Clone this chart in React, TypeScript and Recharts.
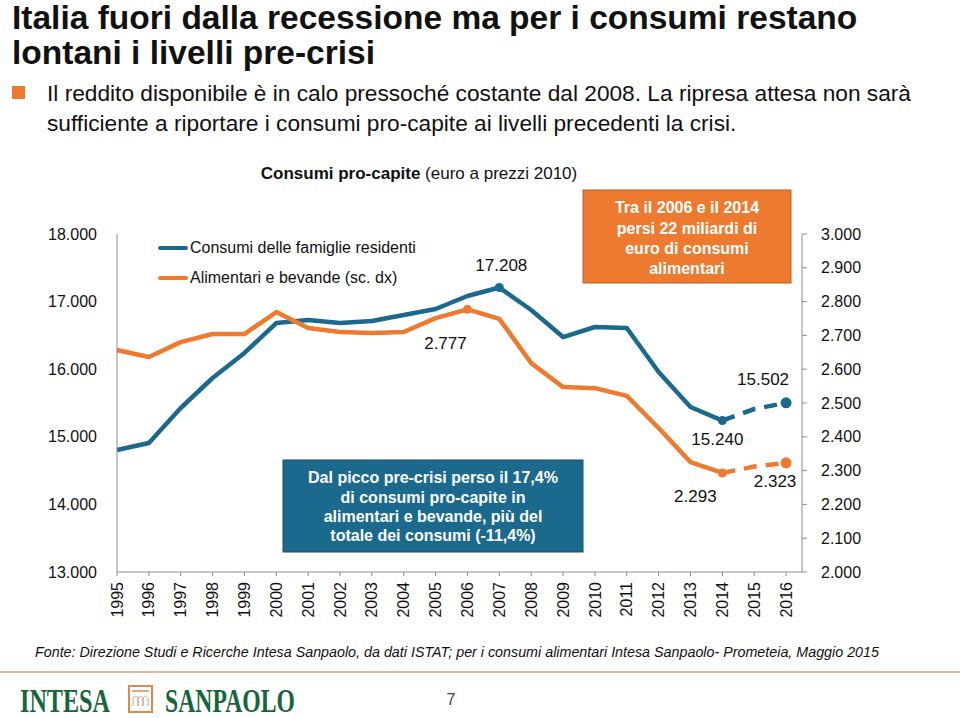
import React from 'react';
import { LineChart, Line, XAxis, YAxis, Legend } from 'recharts';

// Consumi pro-capite (euro a prezzi 2010)
const years = [1995, 1996, 1997, 1998, 1999, 2000, 2001, 2002, 2003, 2004, 2005, 2006, 2007, 2008, 2009, 2010, 2011, 2012, 2013, 2014, 2015, 2016];
const consumiFamiglie = [14805, 14908, 15426, 15870, 16240, 16683, 16728, 16683, 16713, 16802, 16891, 17083, 17208, 16876, 16476, 16624, 16609, 15959, 15441, 15240, 15411, 15502];
const alimentariBevande = [2657, 2636, 2680, 2704, 2704, 2769, 2722, 2710, 2707, 2710, 2751, 2777, 2749, 2618, 2547, 2544, 2521, 2426, 2325, 2293, 2312, 2323];
const lastActualYear = 2014;

const leftTicks = [13000, 14000, 15000, 16000, 17000, 18000];
const rightTicks = [2000, 2100, 2200, 2300, 2400, 2500, 2600, 2700, 2800, 2900, 3000];

// punti evidenziati con etichetta
const blueMarks = [2007, 2014, 2016];
const orangeMarks = [2006, 2014, 2016];

const legendOrder = ['consumi', 'alimentari'];

const BLUE = '#1B6A8E';
const ORANGE = '#EE7A30';
const AXIS = '#8c8c8c';
const FONT = '"Liberation Sans", Arial, Helvetica, sans-serif';

const data = years.map((year, i) => ({
  year,
  consumi: year <= lastActualYear ? consumiFamiglie[i] : null,
  consumiPrev: year >= lastActualYear ? consumiFamiglie[i] : null,
  alimentari: year <= lastActualYear ? alimentariBevande[i] : null,
  alimentariPrev: year >= lastActualYear ? alimentariBevande[i] : null,
}));

const fmt = (v: number) => (v / 1000).toFixed(3);

// label offsets relative to the point
const labelOffsets: Record<string, [number, number]> = {
  'b2007': [2, -17],
  'b2014': [-5, 24],
  'b2016': [-23, -18],
  'o2006': [-22, 40],
  'o2014': [-27, 29],
  'o2016': [-11, 24],
};

const makeDot = (marks: number[], color: string, prefix: string) => (props: any) => {
  const { cx, cy, payload, index, value } = props;
  const key = `${prefix}-${index}`;
  if (cx == null || cy == null || !payload || !marks.includes(payload.year) || value == null) {
    return <g key={key} />;
  }
  const off = labelOffsets[prefix + payload.year] || [0, -12];
  const v = Array.isArray(value) ? value[1] : value;
  return (
    <g key={key}>
      <circle cx={cx} cy={cy} r={payload.year === 2016 ? 5.5 : 4.5} fill={color} />
      <text x={cx + off[0]} y={cy + off[1]} textAnchor="middle" fontSize={17} fontFamily={FONT} fill="#111">
        {fmt(v)}
      </text>
    </g>
  );
};

const YearTick = (props: any) => {
  const { x, y, payload } = props;
  return (
    <g>
      <line x1={x} y1={y - 8} x2={x} y2={y - 4} stroke={AXIS} strokeWidth={1} />
      <text x={x} y={y + 2} transform={`rotate(-90, ${x}, ${y + 2})`} textAnchor="end" dy="0.35em" fontSize={16} fontFamily={FONT} fill="#111">
        {payload.value}
      </text>
    </g>
  );
};

const LegendBox = (props: any) => {
  const items = (props.payload || [])
    .filter((p: any) => legendOrder.includes(p.dataKey))
    .sort((a: any, b: any) => legendOrder.indexOf(a.dataKey) - legendOrder.indexOf(b.dataKey));
  return (
    <div style={{ fontFamily: FONT, fontSize: 16, color: '#111' }}>
      {items.map((p: any) => (
        <div key={p.value} style={{ display: 'flex', alignItems: 'center', height: 30 }}>
          <span style={{ display: 'inline-block', width: 30, height: 4, borderRadius: 2, background: p.color, marginRight: 2 }} />
          <span>{p.value}</span>
        </div>
      ))}
    </div>
  );
};

const Overlay = () => (
  <svg width={960} height={718} style={{ position: 'absolute', left: 0, top: 0, pointerEvents: 'none' }}>
    <g fontFamily={FONT}>
      <text x={12} y={29} fontSize={33.5} fontWeight="bold" fill="#111">Italia fuori dalla recessione ma per i consumi restano</text>
      <text x={12} y={64} fontSize={33.5} fontWeight="bold" fill="#111">lontani i livelli pre-crisi</text>
      <rect x={12} y={86} width={13} height={13} fill={ORANGE} />
      <text x={47} y={101} fontSize={22.7} fill="#111">Il reddito disponibile è in calo pressoché costante dal 2008. La ripresa attesa non sarà</text>
      <text x={47} y={131} fontSize={22.7} fill="#111">sufficiente a riportare i consumi pro-capite ai livelli precedenti la crisi.</text>
      <text x={419} y={179} fontSize={17} textAnchor="middle" fill="#111">
        <tspan fontWeight="bold">Consumi pro-capite</tspan> (euro a prezzi 2010)
      </text>

      <rect x={583} y={190} width={208} height={93} fill={ORANGE} stroke="#b8612a" strokeWidth={1} />
      <g fontSize={16} fontWeight="bold" fill="#fff" textAnchor="middle">
        <text x={687} y={213}>Tra il 2006 e il 2014</text>
        <text x={687} y={234}>persi 22 miliardi di</text>
        <text x={687} y={254}>euro di consumi</text>
        <text x={687} y={274}>alimentari</text>
      </g>

      <rect x={283} y={460} width={300} height={92} fill={BLUE} stroke="#14506b" strokeWidth={1} />
      <g fontSize={16} fontWeight="bold" fill="#fff" textAnchor="middle">
        <text x={433} y={483}>Dal picco pre-crisi perso il 17,4%</text>
        <text x={433} y={503}>di consumi pro-capite in</text>
        <text x={433} y={522}>alimentari e bevande, più del</text>
        <text x={433} y={541}>totale dei consumi (-11,4%)</text>
      </g>

      <text x={35} y={657} fontSize={14.3} fontStyle="italic" fill="#111">
        Fonte: Direzione Studi  e Ricerche  Intesa Sanpaolo, da dati ISTAT; per i consumi alimentari Intesa Sanpaolo- Prometeia, Maggio 2015
      </text>
      <line x1={0} y1={672} x2={960} y2={672} stroke="#d9a27c" strokeWidth={1.5} />
    </g>
    <g fontFamily='"Liberation Serif", "DejaVu Serif", serif' fontWeight="bold" fill="#17663b">
      <text x={20} y={712} fontSize={34} textLength={90} lengthAdjust="spacingAndGlyphs">INTESA</text>
      <rect x={129} y={686} width={23} height={26} fill="#fff" stroke="#d98a4e" strokeWidth={2} />
      <line x1={132} y1={691} x2={149} y2={691} stroke="#d98a4e" strokeWidth={1.5} />
      <path d="M133 706 v-8 q2.5 -4 5 0 v8 M138 706 v-8 q2.5 -4 5 0 v8 M143 706 v-8 q2.5 -4 5 0 v8" fill="none" stroke="#c8a890" strokeWidth={1} />
      <text x={165} y={712} fontSize={34} textLength={130} lengthAdjust="spacingAndGlyphs">SANPAOLO</text>
    </g>
    <text x={451} y={705} fontSize={16} fontFamily={FONT} fill="#444" textAnchor="middle">7</text>
  </svg>
);

export default function App() {
  return (
    <div style={{ position: 'absolute', left: 0, top: 0, width: 960, height: 718, background: '#fff' }}>
      <LineChart width={960} height={718} data={data} margin={{ top: 234, right: 0, bottom: 96, left: 0 }}>
        <XAxis
          dataKey="year"
          type="number"
          domain={[1995, 2016.5]}
          ticks={years}
          interval={0}
          height={50}
          axisLine={{ stroke: AXIS }}
          tickLine={false}
          tick={<YearTick />}
        />
        <YAxis
          yAxisId="left"
          orientation="left"
          width={117}
          domain={[13000, 18000]}
          ticks={leftTicks}
          tickFormatter={fmt}
          axisLine={{ stroke: AXIS }}
          tickLine={false}
          tickSize={0}
          tickMargin={20}
          tick={{ fontSize: 16, fill: '#111', fontFamily: FONT }}
        />
        <YAxis
          yAxisId="right"
          orientation="right"
          width={158}
          domain={[2000, 3000]}
          ticks={rightTicks}
          tickFormatter={fmt}
          axisLine={{ stroke: AXIS }}
          tickLine={{ stroke: AXIS }}
          tickSize={5}
          tickMargin={14}
          tick={{ fontSize: 16, fill: '#111', fontFamily: FONT }}
        />
        <Legend
          layout="vertical"
          align="center"
          verticalAlign="middle"
          content={<LegendBox />}
          wrapperStyle={{ left: 158, top: 233, width: 300 }}
        />
        <Line yAxisId="left" dataKey="consumi" name="Consumi delle famiglie residenti" stroke={BLUE} strokeWidth={4.5} strokeLinejoin="round" dot={makeDot(blueMarks, BLUE, 'b')} activeDot={false} isAnimationActive={false} />
        <Line yAxisId="left" dataKey="consumiPrev" legendType="none" stroke={BLUE} strokeWidth={4.5} strokeDasharray="13 9" dot={makeDot([2016], BLUE, 'b')} activeDot={false} isAnimationActive={false} />
        <Line yAxisId="right" dataKey="alimentari" name="Alimentari e bevande (sc. dx)" stroke={ORANGE} strokeWidth={4.5} strokeLinejoin="round" dot={makeDot(orangeMarks, ORANGE, 'o')} activeDot={false} isAnimationActive={false} />
        <Line yAxisId="right" dataKey="alimentariPrev" legendType="none" stroke={ORANGE} strokeWidth={4.5} strokeDasharray="13 9" dot={makeDot([2016], ORANGE, 'o')} activeDot={false} isAnimationActive={false} />
      </LineChart>
      <Overlay />
    </div>
  );
}
